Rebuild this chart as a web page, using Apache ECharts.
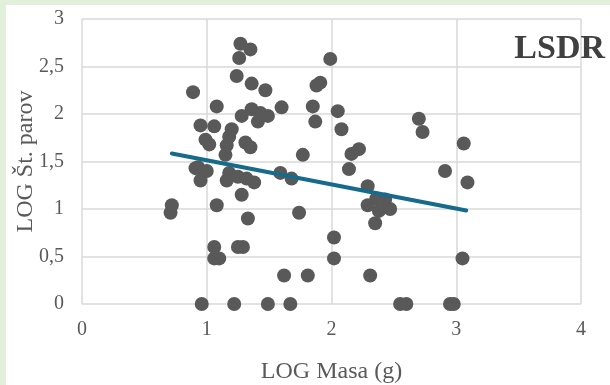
<!DOCTYPE html>
<html><head><meta charset="utf-8">
<script src="https://cdn.jsdelivr.net/npm/echarts@6/dist/echarts.min.js"></script>
<style>
html,body{margin:0;padding:0;background:#e2efda;}
#wrap{position:absolute;left:0;top:0;width:610px;height:385px;background:#e2efda;}
#c{position:absolute;left:6px;top:5px;width:604px;height:380px;background:#ffffff;}
</style></head>
<body><div id="wrap"><div id="c"></div></div>
<script>
const chartTitle = 'LSDR';
const xAxisName = 'LOG Masa (g)';
const yAxisName = 'LOG Št. parov';
const xTicks = [0, 1, 2, 3, 4];
const yTicks = [0, 0.5, 1, 1.5, 2, 2.5, 3];
const logMasa = [
 1.27,1.35,1.26,1.24,1.36,1.47,0.89,1.08,1.28,1.36,1.43,1.49,1.41,1.60,0.95,1.06,1.20,1.18,1.16,0.99,
 1.02,1.31,1.35,1.15,1.77,1.85,1.87,1.88,1.91,1.99,2.05,2.08,2.16,2.22,2.14,2.70,2.73,3.06,2.91,3.09,
 0.93,1.00,0.95,0.91,1.18,1.16,1.25,1.32,1.38,1.28,1.59,1.68,0.72,0.71,1.08,1.33,1.74,
 2.29,2.29,2.35,2.38,2.43,2.47,2.36,
 1.06,1.06,1.10,1.25,1.29,2.02,2.02,1.62,1.81,2.31,3.05,
 0.96,1.22,1.49,1.67,2.55,2.60,2.95,2.98
];
const logParov = [
 2.74,2.68,2.59,2.40,2.32,2.25,2.23,2.08,1.98,2.05,2.01,1.98,1.92,2.07,1.88,1.87,1.84,1.76,1.67,1.73,
 1.68,1.70,1.65,1.57,1.57,2.08,1.92,2.30,2.33,2.58,2.03,1.84,1.58,1.63,1.42,1.95,1.81,1.69,1.40,1.28,
 1.44,1.40,1.30,1.43,1.38,1.30,1.34,1.32,1.28,1.15,1.38,1.32,1.04,0.96,1.04,0.90,0.96,
 1.24,1.04,0.85,0.98,1.10,1.00,1.11,
 0.60,0.48,0.48,0.60,0.60,0.70,0.48,0.30,0.30,0.30,0.48,
 0,0,0,0,0,0,0,0
];
const trendX = [0.72, 3.08];
const trendY = [1.585, 0.985];

const pts = logMasa.map((x, i) => [x, logParov[i]]);
const trend = trendX.map((x, i) => [x, trendY[i]]);
const fmt = v => String(v).replace('.', ',');
const serif = '"Liberation Serif", "DejaVu Serif", serif';

const chart = echarts.init(document.getElementById('c'), null, {renderer: 'canvas'});
chart.setOption({
  animation: false,
  backgroundColor: '#ffffff',
  title: {
    text: chartTitle, right: 0, top: 22,
    textStyle: {fontFamily: serif, fontSize: 34, fontWeight: 'bold', color: '#404040'}
  },
  grid: {left: 76, right: 29, top: 14, bottom: 81, containLabel: false, outerBoundsMode: 'none'},
  xAxis: {
    type: 'value', min: xTicks[0], max: xTicks[xTicks.length - 1], interval: 1,
    name: xAxisName, nameLocation: 'middle', nameGap: 56, nameMoveOverlap: false,
    nameTextStyle: {fontFamily: serif, fontSize: 24, color: '#595959'},
    axisLine: {show: false}, axisTick: {show: false},
    axisLabel: {fontFamily: serif, fontSize: 20, color: '#595959', margin: 16, formatter: fmt},
    splitLine: {show: true, lineStyle: {color: '#d9d9d9', width: 1.5}}
  },
  yAxis: {
    type: 'value', min: yTicks[0], max: yTicks[yTicks.length - 1], interval: 0.5,
    name: yAxisName, nameLocation: 'middle', nameGap: 44, nameRotate: 90, nameMoveOverlap: false,
    nameTextStyle: {fontFamily: serif, fontSize: 24, color: '#595959'},
    axisLine: {show: false}, axisTick: {show: false},
    axisLabel: {fontFamily: serif, fontSize: 20, color: '#595959', margin: 18, formatter: fmt},
    splitLine: {show: true, lineStyle: {color: '#d9d9d9', width: 1.5}}
  },
  series: [
    {
      type: 'scatter', data: pts, symbol: 'circle', symbolSize: 14,
      itemStyle: {color: '#595959', opacity: 1}, z: 3
    },
    {
      type: 'line', data: trend, showSymbol: false, symbol: 'none',
      lineStyle: {color: '#166b8c', width: 4, cap: 'round'}, z: 4
    }
  ]
});
</script></body></html>
